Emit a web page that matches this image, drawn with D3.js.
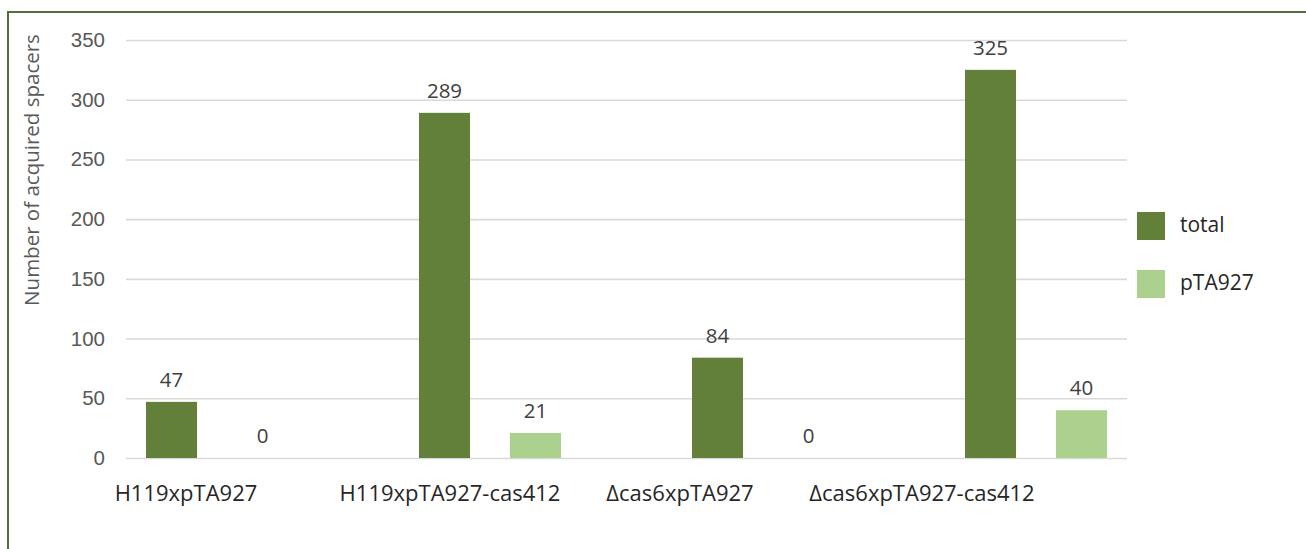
<!DOCTYPE html>
<html>
<head>
<meta charset="utf-8">
<script src="https://cdn.jsdelivr.net/npm/d3@7"></script>
<style>
  html, body { margin: 0; padding: 0; background: #ffffff; }
  svg { display: block; font-family: "Open Sans", "Noto Sans", sans-serif; }
</style>
</head>
<body>
<svg id="chart" width="1306" height="549"></svg>
<script>
// Strains crossed with the plasmid, and spacer counts per series
const categories = ["H119xpTA927", "H119xpTA927-cas412", "\u0394cas6xpTA927", "\u0394cas6xpTA927-cas412"];
const seriesNames = ["total", "pTA927"];
const totalValues = [47, 289, 84, 325];
const pTA927Values = [0, 21, 0, 40];
const yTicks = [0, 50, 100, 150, 200, 250, 300, 350];
const yTitle = "Number of acquired spacers";

const colors = { total: "#62803a", pTA927: "#acd08d" };
const rows = categories.map((c, i) => ({ category: c, total: totalValues[i], pTA927: pTA927Values[i] }));

const svg = d3.select("#chart");
const W = 1306, H = 549;

// Frame: only the top and left edges fall inside the page
svg.append("rect")
  .attr("x", 8).attr("y", 12)
  .attr("width", W + 20).attr("height", H + 20)
  .attr("fill", "none")
  .attr("stroke", "#54703a")
  .attr("stroke-width", 2);

// Plot area
const plot = { left: 126, right: 1127, top: 40, bottom: 458 };

const y = d3.scaleLinear().domain([0, 350]).range([plot.bottom, plot.top]);

// Category bands; each group holds two bars with a gap between them
const x0 = d3.scaleBand().domain(categories).range([80.5, 1172.5]).paddingInner(0).paddingOuter(0);
const x1 = d3.scaleBand().domain(seriesNames).range([65.5, 207.5]).paddingInner(40 / 91).paddingOuter(0);

// Horizontal gridlines + tick labels
const yAxis = d3.axisLeft(y)
  .tickValues(yTicks)
  .tickSize(-(plot.right - plot.left))
  .tickPadding(21)
  .tickFormat(d3.format("d"));

const gy = svg.append("g")
  .attr("transform", `translate(${plot.left},0)`)
  .call(yAxis);
gy.select(".domain").remove();
gy.selectAll(".tick line").attr("stroke", "#d9d9d9").attr("stroke-width", 1.6);
gy.selectAll(".tick text")
  .attr("fill", "#595959")
  .style("font-size", "20.5px");

// Y axis title
svg.append("text")
  .attr("transform", `translate(39,170) rotate(-90)`)
  .attr("text-anchor", "middle")
  .attr("fill", "#595959")
  .style("font-size", "20.5px")
  .text(yTitle);

// Bars
const groups = svg.append("g").selectAll("g")
  .data(rows)
  .join("g")
  .attr("transform", d => `translate(${x0(d.category)},0)`);

groups.selectAll("rect")
  .data(d => seriesNames.map(s => ({ key: s, value: d[s] })))
  .join("rect")
  .attr("x", d => x1(d.key))
  .attr("width", x1.bandwidth())
  .attr("y", d => y(d.value))
  .attr("height", d => y(0) - y(d.value))
  .attr("fill", d => colors[d.key]);

// Value labels above each bar
groups.selectAll("text.value")
  .data(d => seriesNames.map(s => ({ key: s, value: d[s] })))
  .join("text")
  .attr("class", "value")
  .attr("x", d => x1(d.key) + x1.bandwidth() / 2)
  .attr("y", d => y(d.value) - 15)
  .attr("text-anchor", "middle")
  .attr("fill", "#404040")
  .style("font-size", "20.5px")
  .text(d => d.value);

// Category labels below the axis, shifted left of the group centres
const labelShift = [-31, -40, -83, -114];
svg.append("g").selectAll("text")
  .data(categories)
  .join("text")
  .attr("x", (d, i) => x0(d) + x0.bandwidth() / 2 + labelShift[i])
  .attr("y", 501)
  .attr("text-anchor", "middle")
  .attr("fill", "#262626")
  .style("font-size", "22px")
  .text(d => d);

// Legend
const legend = svg.append("g")
  .selectAll("g")
  .data(seriesNames)
  .join("g")
  .attr("transform", (d, i) => `translate(1137,${212 + i * 58})`);

legend.append("rect")
  .attr("width", 28).attr("height", 28)
  .attr("fill", d => colors[d]);

legend.append("text")
  .attr("x", 43).attr("y", 13)
  .attr("dy", "0.35em")
  .attr("fill", "#262626")
  .style("font-size", "21px")
  .text(d => d);
</script>
</body>
</html>
